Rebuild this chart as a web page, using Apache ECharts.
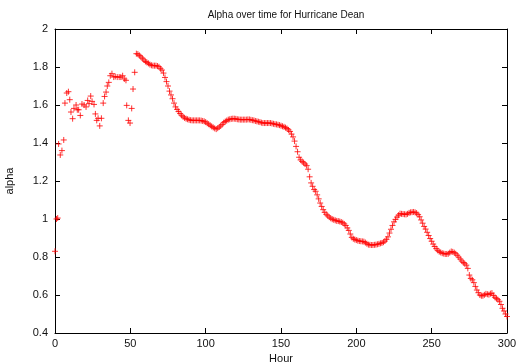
<!DOCTYPE html>
<html>
<head>
<meta charset="utf-8">
<script src="https://cdn.jsdelivr.net/npm/echarts@6/dist/echarts.min.js"></script>
<style>
html,body{margin:0;padding:0;background:#fff;}
#chart{width:519px;height:362px;}
</style>
</head>
<body>
<div id="chart"></div>
<script>
var titleText = 'Alpha over time for Hurricane Dean';
var xName = 'Hour';
var yName = 'alpha';
var xTicks = [0, 50, 100, 150, 200, 250, 300];
var yTicks = [0.4, 0.6, 0.8, 1, 1.2, 1.4, 1.6, 1.8, 2];

// Early scattered part (hour, alpha)
var earlyHours = [0, 1, 1.8, 2.4, 3.5, 4.6, 5.8, 6.6, 7.8, 8.9, 9.8, 10.6, 11.7, 12.6, 14, 14.8, 15.7, 16.8, 17.9, 19.3,
  20.6, 21.7, 22.6, 23.7, 24.6, 25.9, 26.8, 27.7, 28.6, 29.7, 30.8, 32, 32.9, 33.9, 34.7, 35.7, 36.7, 37.8, 39, 40,
  41.3, 42.6, 43.7, 44.9, 46, 47.1, 47.6, 48.7, 49.8, 50.9, 51.8, 52.9];
var earlyAlpha = [0.83, 1.0, 1.005, 1.395, 1.337, 1.36, 1.416, 1.61, 1.663, 1.67, 1.628, 1.563, 1.528, 1.582, 1.6, 1.575, 1.575, 1.545, 1.605, 1.60,
  1.59, 1.624, 1.607, 1.647, 1.619, 1.603, 1.553, 1.519, 1.53, 1.49, 1.53, 1.61, 1.645, 1.668, 1.70, 1.719, 1.754, 1.765, 1.747, 1.75,
  1.747, 1.747, 1.747, 1.754, 1.737, 1.73, 1.598, 1.519, 1.505, 1.582, 1.684, 1.772];

// Hourly part starting at hour 54
var mainStartHour = 54;
var mainAlpha = [
  1.870, 1.868, 1.861, 1.853, 1.846, 1.837, 1.829, 1.824, 1.819, 1.813,
  1.809, 1.807, 1.807, 1.807, 1.805, 1.801, 1.791, 1.784, 1.768, 1.745,
  1.723, 1.700, 1.673, 1.653, 1.633, 1.610, 1.590, 1.577, 1.566, 1.555,
  1.546, 1.538, 1.532, 1.528, 1.525, 1.522, 1.520, 1.519, 1.519, 1.519,
  1.519, 1.519, 1.519, 1.518, 1.516, 1.514, 1.510, 1.504, 1.499, 1.493,
  1.487, 1.482, 1.477, 1.473, 1.478, 1.484, 1.490, 1.498, 1.507, 1.513,
  1.518, 1.523, 1.525, 1.527, 1.528, 1.528, 1.527, 1.525, 1.524, 1.523,
  1.523, 1.523, 1.523, 1.523, 1.524, 1.524, 1.522, 1.520, 1.519, 1.516,
  1.514, 1.512, 1.510, 1.507, 1.505, 1.505, 1.505, 1.505, 1.505, 1.505,
  1.503, 1.501, 1.499, 1.498, 1.496, 1.494, 1.491, 1.488, 1.485, 1.481,
  1.476, 1.469, 1.461, 1.447, 1.432, 1.410, 1.382, 1.354, 1.325, 1.311,
  1.303, 1.296, 1.289, 1.281, 1.262, 1.222, 1.190, 1.172, 1.155, 1.146,
  1.127, 1.106, 1.084, 1.066, 1.049, 1.035, 1.025, 1.017, 1.010, 1.004,
  0.999, 0.996, 0.993, 0.990, 0.989, 0.987, 0.984, 0.980, 0.974, 0.966,
  0.953, 0.940, 0.921, 0.903, 0.896, 0.892, 0.889, 0.886, 0.884, 0.883,
  0.882, 0.881, 0.876, 0.870, 0.865, 0.864, 0.863, 0.863, 0.864, 0.865,
  0.867, 0.869, 0.872, 0.874, 0.878, 0.884, 0.893, 0.906, 0.926, 0.946,
  0.966, 0.985, 0.998, 1.010, 1.020, 1.028, 1.027, 1.026, 1.025, 1.024,
  1.027, 1.032, 1.035, 1.036, 1.037, 1.035, 1.031, 1.023, 1.012, 0.995,
  0.978, 0.961, 0.947, 0.930, 0.913, 0.897, 0.883, 0.868, 0.855, 0.844,
  0.835, 0.828, 0.824, 0.820, 0.818, 0.816, 0.816, 0.817, 0.823, 0.829,
  0.827, 0.823, 0.817, 0.809, 0.799, 0.789, 0.779, 0.771, 0.764, 0.757,
  0.740, 0.705, 0.687, 0.680, 0.665, 0.645, 0.626, 0.612, 0.600, 0.596,
  0.596, 0.601, 0.606, 0.604, 0.602, 0.607, 0.610, 0.597, 0.588, 0.582,
  0.575, 0.567, 0.550, 0.530, 0.516, 0.500, 0.487
];

var points = [];
for (var i = 0; i < earlyHours.length; i++) points.push([earlyHours[i], earlyAlpha[i]]);
for (var j = 0; j < mainAlpha.length; j++) points.push([mainStartHour + j, mainAlpha[j]]);

var fontFam = '"Liberation Sans", Arial, sans-serif';
var chart = echarts.init(document.getElementById('chart'), null, {renderer: 'canvas'});

var baseAxisLine = {show: true, onZero: false, lineStyle: {color: '#000', width: 1}};
var tickIn = {show: true, inside: true, length: 5, lineStyle: {color: '#000', width: 1}};

chart.setOption({
  animation: false,
  backgroundColor: '#fff',
  title: {
    text: titleText,
    left: 281, top: 5, textAlign: 'center',
    textStyle: {fontFamily: fontFam, fontSize: 10, fontWeight: 'normal', color: '#111'}
  },
  grid: {left: 55, right: 12, top: 29, bottom: 29, containLabel: false, outerBoundsMode: 'none'},
  xAxis: [{
    type: 'value', min: xTicks[0], max: xTicks[xTicks.length - 1], interval: 50,
    name: xName, nameLocation: 'middle', nameGap: 20,
    nameTextStyle: {fontFamily: fontFam, fontSize: 11, color: '#111'},
    axisLine: baseAxisLine, axisTick: tickIn,
    axisLabel: {fontFamily: fontFam, fontSize: 11, color: '#111', margin: 5},
    splitLine: {show: false}
  }, {
    type: 'value', position: 'top', min: xTicks[0], max: xTicks[xTicks.length - 1], interval: 50,
    axisLine: baseAxisLine, axisTick: tickIn, axisLabel: {show: false}, splitLine: {show: false}
  }],
  yAxis: [{
    type: 'value', min: yTicks[0], max: yTicks[yTicks.length - 1], interval: 0.2,
    name: yName, nameLocation: 'middle', nameGap: 40, nameRotate: 90,
    nameTextStyle: {fontFamily: fontFam, fontSize: 11, color: '#111'},
    axisLine: baseAxisLine, axisTick: tickIn,
    axisLabel: {fontFamily: fontFam, fontSize: 11, color: '#111', margin: 7},
    splitLine: {show: false}
  }, {
    type: 'value', position: 'right', min: yTicks[0], max: yTicks[yTicks.length - 1], interval: 0.2,
    axisLine: baseAxisLine, axisTick: tickIn, axisLabel: {show: false}, splitLine: {show: false}
  }],
  series: [{
    type: 'scatter',
    xAxisIndex: 0, yAxisIndex: 0,
    data: points,
    symbol: 'path://M3,0L3,6M0,3L6,3',
    symbolSize: 6,
    itemStyle: {color: 'none', borderColor: '#ff0000', borderWidth: 1},
    emphasis: {disabled: true}
  }]
});
</script>
</body>
</html>
